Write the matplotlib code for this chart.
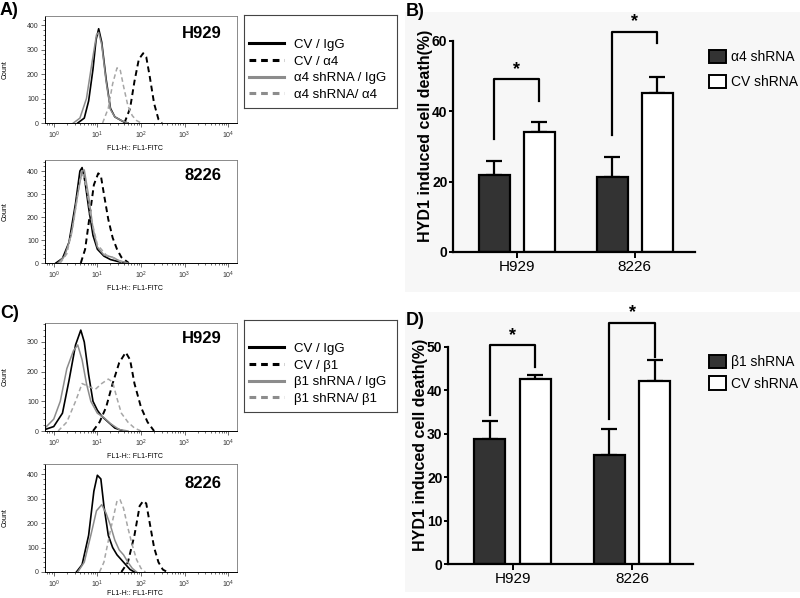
import numpy as np
import matplotlib
matplotlib.use('Agg')
import matplotlib.pyplot as plt
from matplotlib.lines import Line2D
from matplotlib.patches import Patch, Rectangle
from matplotlib.ticker import AutoMinorLocator, LogLocator, FixedLocator

plt.rcParams['font.family'] = ['Liberation Sans', 'DejaVu Sans']

W, H = 800, 598

# ---- flow histograms: (log10 FL1, count) ----
# A) H929, alpha4
a1_cv_igg = [(0.55, 0), (0.7, 20), (0.8, 90), (0.9, 220), (0.97, 340), (1.03, 385), (1.1, 330),
             (1.2, 180), (1.3, 60), (1.4, 25), (1.5, 15), (1.6, 5), (1.7, 0)]
a1_cv_ab = [(1.62, 0), (1.75, 60), (1.85, 170), (1.95, 260), (2.05, 285), (2.12, 270), (2.2, 190),
            (2.3, 80), (2.4, 15), (2.48, 0)]
a1_sh_igg = [(0.45, 0), (0.6, 20), (0.75, 100), (0.88, 250), (0.98, 360), (1.03, 370), (1.1, 320),
             (1.2, 170), (1.3, 55), (1.4, 25), (1.55, 10), (1.7, 0)]
a1_sh_ab = [(1.12, 0), (1.25, 60), (1.35, 160), (1.45, 225), (1.52, 220), (1.6, 150), (1.7, 70),
            (1.8, 30), (1.9, 10), (2.0, 0)]
# A) 8226, alpha4
a2_cv_igg = [(0.05, 0), (0.2, 20), (0.35, 90), (0.5, 260), (0.6, 400), (0.65, 415), (0.72, 350),
             (0.8, 240), (0.9, 120), (1.0, 60), (1.15, 30), (1.3, 15), (1.5, 5), (1.7, 0)]
a2_cv_ab = [(0.62, 0), (0.72, 60), (0.82, 200), (0.92, 340), (1.02, 390), (1.08, 380), (1.15, 300),
            (1.25, 190), (1.35, 110), (1.45, 60), (1.55, 25), (1.65, 10), (1.72, 0)]
a2_sh_igg = [(0.1, 0), (0.25, 30), (0.4, 120), (0.55, 300), (0.65, 400), (0.7, 405), (0.8, 290),
             (0.9, 150), (1.0, 70), (1.15, 35), (1.35, 25), (1.5, 10), (1.7, 0)]
a2_sh_ab = [(0.15, 0), (0.3, 40), (0.45, 170), (0.6, 360), (0.67, 385), (0.75, 330), (0.85, 200),
            (1.0, 80), (1.2, 35), (1.4, 20), (1.6, 0)]
# C) H929, beta1
c1_cv_igg = [(-0.2, 5), (0.0, 15), (0.2, 60), (0.35, 170), (0.5, 290), (0.62, 340), (0.7, 300),
             (0.8, 190), (0.9, 100), (1.0, 70), (1.1, 50), (1.25, 30), (1.4, 10), (1.6, 0)]
c1_cv_ab = [(0.9, 0), (1.05, 30), (1.2, 80), (1.35, 160), (1.5, 230), (1.65, 265), (1.75, 240),
            (1.85, 160), (2.0, 80), (2.15, 30), (2.3, 0)]
c1_sh_igg = [(-0.2, 10), (0.0, 40), (0.15, 100), (0.3, 210), (0.45, 270), (0.55, 290), (0.65, 240),
             (0.75, 160), (0.85, 100), (1.0, 60), (1.15, 45), (1.3, 25), (1.5, 5), (1.7, 0)]
c1_sh_ab = [(0.1, 0), (0.3, 30), (0.5, 100), (0.65, 160), (0.8, 150), (0.95, 140), (1.1, 160),
            (1.25, 175), (1.35, 165), (1.45, 110), (1.55, 60), (1.7, 30), (1.85, 10), (2.0, 0)]
# C) 8226, beta1
c2_cv_igg = [(0.52, 0), (0.65, 30), (0.8, 150), (0.92, 330), (1.0, 395), (1.08, 380), (1.15, 270),
             (1.25, 150), (1.35, 100), (1.45, 70), (1.55, 50), (1.65, 30), (1.75, 10), (1.85, 0)]
c2_cv_ab = [(1.55, 0), (1.7, 40), (1.85, 150), (1.97, 270), (2.05, 290), (2.12, 280), (2.2, 200),
            (2.3, 100), (2.4, 40), (2.5, 10), (2.6, 0)]
c2_sh_igg = [(0.55, 0), (0.7, 40), (0.85, 150), (0.98, 250), (1.1, 275), (1.2, 240), (1.3, 190),
             (1.4, 130), (1.5, 90), (1.6, 70), (1.7, 40), (1.8, 15), (1.9, 0)]
c2_sh_ab = [(1.05, 0), (1.15, 40), (1.3, 170), (1.45, 290), (1.52, 295), (1.6, 260), (1.7, 180),
            (1.8, 110), (1.9, 50), (2.0, 15), (2.1, 0)]

legend_a = ['CV / IgG', 'CV / α4', 'α4 shRNA / IgG', 'α4 shRNA/ α4']
legend_c = ['CV / IgG', 'CV / β1', 'β1 shRNA / IgG', 'β1 shRNA/ β1']

# ---- bar charts ----
cells = ['H929', '8226']
b_kd = [22.0, 21.2]
b_kd_err = [3.9, 5.9]
b_cv = [34.0, 45.1]
b_cv_err = [3.0, 4.8]
b_brk_top = [49.1, 62.7]
b_brk_left = [32.0, 33.4]
b_brk_right = [42.9, 59.4]
b_labels = ['α4 shRNA', 'CV shRNA']

d_kd = [28.9, 25.1]
d_kd_err = [4.0, 6.1]
d_cv = [42.6, 42.1]
d_cv_err = [0.9, 4.8]
d_brk_top = [50.4, 55.6]
d_brk_left = [34.3, 33.3]
d_brk_right = [45.4, 47.7]
d_labels = ['β1 shRNA', 'CV shRNA']

fig = plt.figure(figsize=(8, 5.98), dpi=100)


def px_axes(l, r, t, b):
    return fig.add_axes([l / W, 1 - b / H, (r - l) / W, (b - t) / H])


# faint grey background behind the bar panels
fig.patches.append(Rectangle((405 / W, 1 - 292 / H), 395 / W, 280 / H, transform=fig.transFigure,
                             facecolor='#f7f7f7', edgecolor='none', zorder=-1))
fig.patches.append(Rectangle((405 / W, 1 - 592 / H), 395 / W, 280 / H, transform=fig.transFigure,
                             facecolor='#f7f7f7', edgecolor='none', zorder=-1))

styles = [dict(color='black', lw=1.2, ls='-'),
          dict(color='black', lw=1.4, ls=(0, (3, 2))),
          dict(color='#8c8c8c', lw=1.1, ls='-'),
          dict(color='#a6a6a6', lw=1.1, ls=(0, (3, 2)))]


def histo(box, curves, ymax, yticks, name, name_y, xlab_y):
    ax = px_axes(*box)
    for pts, st in zip(curves, styles):
        lx, cnt = zip(*pts)
        ax.plot(10 ** np.array(lx), cnt, **st)
    ax.set_xscale('log')
    ax.set_xlim(10 ** -0.2, 10 ** 4.2)
    ax.set_ylim(0, ymax)
    ax.yaxis.set_major_locator(FixedLocator(yticks))
    ax.yaxis.set_minor_locator(AutoMinorLocator(5))
    ax.xaxis.set_major_locator(LogLocator(base=10, numticks=10))
    ax.tick_params(which='both', direction='out', width=0.5, labelsize=5, colors='#333333', pad=1.5)
    ax.tick_params(which='major', length=3)
    ax.tick_params(which='minor', length=1.5)
    for s in ['left', 'bottom']:
        ax.spines[s].set_linewidth(0.7)
    for s in ['top', 'right']:
        ax.spines[s].set_linewidth(0.6)
        ax.spines[s].set_color('#777777')
    ax.set_ylabel('Count', fontsize=5, fontstretch='condensed')
    ax.yaxis.set_label_coords(-0.19, 0.5)
    ax.set_xlabel('FL1-H:: FL1-FITC', fontsize=5)
    ax.xaxis.set_label_coords(0.47, xlab_y)
    ax.text(0.92, name_y, name, transform=ax.transAxes, ha='right', va='center',
            fontsize=12, fontweight='bold')
    return ax


histo((45, 237, 16, 123), [a1_cv_igg, a1_cv_ab, a1_sh_igg, a1_sh_ab], 437, [0, 100, 200, 300, 400],
      'H929', 0.84, -0.21)
histo((45, 237, 160, 263), [a2_cv_igg, a2_cv_ab, a2_sh_igg, a2_sh_ab], 448, [0, 100, 200, 300, 400],
      '8226', 0.845, -0.21)
histo((45, 237, 323, 431), [c1_cv_igg, c1_cv_ab, c1_sh_igg, c1_sh_ab], 364, [0, 100, 200, 300],
      'H929', 0.86, -0.2)
histo((45, 237, 464, 572), [c2_cv_igg, c2_cv_ab, c2_sh_igg, c2_sh_ab], 441, [0, 100, 200, 300, 400],
      '8226', 0.82, -0.165)


def line_legend(box, labels):
    ax = px_axes(*box)
    ax.set_xticks([])
    ax.set_yticks([])
    for s in ax.spines.values():
        s.set_linewidth(0.8)
        s.set_color('#444444')
    handles = [Line2D([], [], color='black', lw=2.2, ls='-'),
               Line2D([], [], color='black', lw=2.2, ls=(0, (2.2, 1.6))),
               Line2D([], [], color='#8c8c8c', lw=2.2, ls='-'),
               Line2D([], [], color='#8c8c8c', lw=2.2, ls=(0, (2.2, 1.6)))]
    ax.legend(handles, labels, loc='lower left', bbox_to_anchor=(0.0, 0.02), frameon=False,
              fontsize=9.5, handlelength=2.6, handletextpad=0.8, labelspacing=0.33,
              borderpad=0.2, borderaxespad=0.2)


line_legend((244, 397, 15, 108), legend_a)
line_legend((244, 397, 320, 412), legend_c)


def bars(box, kd, kd_err, cv, cv_err, top, left, right, ymax, yticks, labels, leg_y, leg_sp, ylab_x):
    ax = px_axes(*box)
    ax.set_facecolor('none')
    x = np.arange(len(cells))
    off, w = 0.19, 0.26
    ax.bar(x - off, kd, w, color='#333333', edgecolor='black', lw=1.6, zorder=2)
    ax.bar(x + off, cv, w, color='white', edgecolor='black', lw=1.6, zorder=2)
    ax.errorbar(x - off, kd, yerr=[[0] * len(kd), kd_err], fmt='none', ecolor='black',
                elinewidth=1.6, capsize=6, capthick=1.6, zorder=1)
    ax.errorbar(x + off, cv, yerr=[[0] * len(cv), cv_err], fmt='none', ecolor='black',
                elinewidth=1.6, capsize=6, capthick=1.6, zorder=1)
    for i in range(len(cells)):
        ax.plot([x[i] - off, x[i] - off, x[i] + off, x[i] + off], [left[i], top[i], top[i], right[i]],
                color='black', lw=1.6, clip_on=False)
        ax.text(x[i], top[i] + 0.3, '*', ha='center', va='bottom', fontsize=13, fontweight='bold')
    ax.set_xlim(-0.54, 1.51)
    ax.set_ylim(0, ymax)
    ax.set_yticks(yticks)
    ax.set_xticks(x)
    ax.set_xticklabels(cells, fontsize=11)
    for lab in ax.get_yticklabels():
        lab.set_fontweight('bold')
        lab.set_fontsize(10)
    ax.tick_params(axis='y', direction='out', length=3, width=1.4, pad=1)
    ax.tick_params(axis='x', direction='out', length=4, width=1.4, pad=1.5)
    for s in ['top', 'right']:
        ax.spines[s].set_visible(False)
    for s in ['left', 'bottom']:
        ax.spines[s].set_linewidth(1.6)
    ax.set_ylabel('HYD1 induced cell death(%)', fontsize=11.5, fontweight='bold')
    ax.yaxis.set_label_coords(ylab_x, 0.55)
    handles = [Patch(facecolor='#333333', edgecolor='black', lw=1.4),
               Patch(facecolor='white', edgecolor='black', lw=1.4)]
    fig.legend(handles, labels, loc='upper left', bbox_to_anchor=(709 / W, 1 - leg_y / H), frameon=False,
               fontsize=10, handlelength=1.2, handleheight=1.1, handletextpad=0.4,
               labelspacing=leg_sp, borderpad=0, borderaxespad=0)
    return ax


bars((453, 695, 41, 252), b_kd, b_kd_err, b_cv, b_cv_err, b_brk_top, b_brk_left, b_brk_right,
     60, [0, 20, 40, 60], b_labels, 50, 0.75, -0.083)
bars((448, 693, 347, 564), d_kd, d_kd_err, d_cv, d_cv_err, d_brk_top, d_brk_left, d_brk_right,
     50, [0, 10, 20, 30, 40, 50], d_labels, 355, 0.5, -0.082)

for txt, px, py in [('A)', 0, 2), ('B)', 406, 3), ('C)', 0, 305), ('D)', 406, 312)]:
    fig.text(px / W, 1 - py / H, txt, fontsize=13, fontweight='bold', va='top', ha='left')

fig.savefig('out.png', dpi=100)
